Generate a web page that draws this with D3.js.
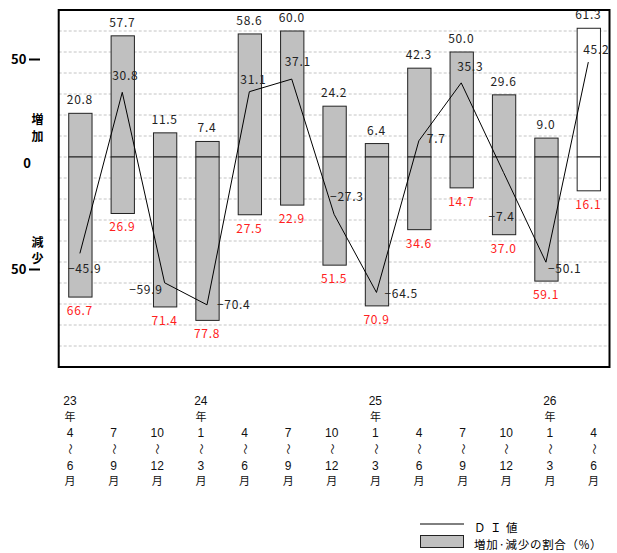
<!DOCTYPE html>
<html>
<head>
<meta charset="utf-8">
<script src="https://cdn.jsdelivr.net/npm/d3@7"></script>
<style>
  html, body { margin: 0; padding: 0; background: #fff; }
  svg { display: block; }
  text { font-family: "Noto Sans CJK JP", "Noto Sans", sans-serif; }
  text.num { font-family: "Liberation Sans", Arial, sans-serif; }
</style>
</head>
<body>
<svg id="chart" width="617" height="553"></svg>
<script>
// Quarterly survey: share of "increase" / "decrease" answers and the DI (increase − decrease)
const yearLabels  = ["23", "", "", "24", "", "", "", "25", "", "", "", "26", ""];
const startMonths = ["4", "7", "10", "1", "4", "7", "10", "1", "4", "7", "10", "1", "4"];
const endMonths   = ["6", "9", "12", "3", "6", "9", "12", "3", "6", "9", "12", "3", "6"];
const increase = [20.8, 57.7, 11.5, 7.4, 58.6, 60.0, 24.2, 6.4, 42.3, 50.0, 29.6, 9.0, 61.3];
const decrease = [66.7, 26.9, 71.4, 77.8, 27.5, 22.9, 51.5, 70.9, 34.6, 14.7, 37.0, 59.1, 16.1];
const di       = [-45.9, 30.8, -59.9, -70.4, 31.1, 37.1, -27.3, -64.5, 7.7, 35.3, -7.4, -50.1, 45.2];
const forecast = [false, false, false, false, false, false, false, false, false, false, false, false, true];
const yTicks = [50, 0, -50];

// DI label placement relative to each point: [anchor, dx, dy]
const diLabelPlace = [
  ["start", -12, 15], ["middle", 3, -17], ["end", -2, 7], ["start", 10, 0],
  ["middle", 4, -12], ["middle", 6, -17], ["start", -4, -18], ["start", 8, 1],
  ["start", 8, -2], ["middle", 9, -16], ["start", -15, 44], ["start", 2, 7],
  ["middle", 8, -12]
];

const svg = d3.select("#chart");
const idx = d3.range(increase.length);
const plotL = 58.7, plotR = 609.5, plotT = 10, plotB = 367;

const x = d3.scaleBand().domain(idx).range([plotL, plotR]).paddingInner(0.45).paddingOuter(0.225);
const y = d3.scaleLinear().domain([-100, 70]).range([plotB, plotT]);
const xLab = d3.scalePoint().domain(idx).range([70, 593.5]);
const cx = i => x(i) + x.bandwidth() / 2;
const fmt = v => (v < 0 ? "\u2212" : "") + Math.abs(v).toFixed(1);

// dashed grid
svg.append("g").selectAll("line")
  .data(d3.range(-90, 70, 10))
  .join("line")
  .attr("x1", plotL).attr("x2", plotR)
  .attr("y1", d => y(d)).attr("y2", d => y(d))
  .attr("stroke", "#c4c4c4").attr("stroke-width", 1)
  .attr("stroke-dasharray", "3,2");

// bars: upper part = increase, lower part = decrease
const bars = svg.append("g");
bars.selectAll("rect.inc").data(idx).join("rect")
  .attr("class", "inc")
  .attr("x", d => x(d) + 0.5).attr("width", x.bandwidth())
  .attr("y", d => y(increase[d])).attr("height", d => y(0) - y(increase[d]))
  .attr("fill", d => forecast[d] ? "#fff" : "#c0c0c0")
  .attr("stroke", "#222").attr("stroke-width", 1);
bars.selectAll("rect.dec").data(idx).join("rect")
  .attr("class", "dec")
  .attr("x", d => x(d) + 0.5).attr("width", x.bandwidth())
  .attr("y", y(0)).attr("height", d => y(-decrease[d]) - y(0))
  .attr("fill", d => forecast[d] ? "#fff" : "#c0c0c0")
  .attr("stroke", "#222").attr("stroke-width", 1);

// DI line
svg.append("path")
  .datum(idx)
  .attr("d", d3.line().x(d => cx(d)).y(d => y(di[d])))
  .attr("fill", "none").attr("stroke", "#000").attr("stroke-width", 1);

// plot frame
svg.append("rect")
  .attr("x", plotL).attr("y", plotT)
  .attr("width", plotR - plotL).attr("height", plotB - plotT)
  .attr("fill", "none").attr("stroke", "#000").attr("stroke-width", 2);

// value labels
const lab = svg.append("g").attr("font-size", 12).attr("letter-spacing", "0.7px");
lab.selectAll("text.inc").data(idx).join("text")
  .attr("x", d => cx(d)).attr("y", d => y(increase[d]) - 9)
  .attr("text-anchor", "middle").attr("fill", "#222")
  .text(d => fmt(increase[d]));
lab.selectAll("text.dec").data(idx).join("text")
  .attr("x", d => cx(d)).attr("y", d => y(-decrease[d]) + 18)
  .attr("text-anchor", "middle").attr("fill", "#ff2020")
  .text(d => fmt(decrease[d]));
lab.selectAll("text.di").data(idx).join("text")
  .attr("x", d => cx(d) + diLabelPlace[d][1])
  .attr("y", d => y(di[d]) + diLabelPlace[d][2])
  .attr("dy", "0.35em")
  .attr("text-anchor", d => diLabelPlace[d][0]).attr("fill", "#222")
  .text(d => fmt(di[d]));

// y-axis captions
const yl = svg.append("g").attr("font-size", 13).attr("font-weight", "bold").attr("fill", "#000");
yTicks.forEach(t => {
  if (t === 0) {
    yl.append("text").attr("x", 27).attr("y", 163).attr("dy", "0.35em").attr("text-anchor", "middle").text("0");
  } else {
    const yy = t > 0 ? 59.5 : 269.5;
    yl.append("text").attr("x", 11).attr("y", yy).attr("dy", "0.35em").text(String(Math.abs(t)));
    yl.append("line").attr("x1", 29).attr("x2", 40).attr("y1", yy).attr("y2", yy)
      .attr("stroke", "#000").attr("stroke-width", 2);
  }
});
[["増", 120], ["加", 137], ["減", 243], ["少", 259]].forEach(([c, yy]) => {
  yl.append("text").attr("x", 37.5).attr("y", yy).attr("dy", "0.35em")
    .attr("text-anchor", "middle").attr("font-size", 12).text(c);
});

// x-axis period labels, stacked vertically under each bar
const xl = svg.append("g").attr("fill", "#111").attr("text-anchor", "middle");
const row = (s, xx, yy, cls, size) =>
  xl.append("text").attr("class", cls).attr("x", xx).attr("y", yy)
    .attr("dy", "0.35em").attr("font-size", size).text(s);
idx.forEach(i => {
  const xx = xLab(i);
  if (yearLabels[i]) {
    row(yearLabels[i], xx, 400.5, "num", 12);
    row("年", xx, 417, "", 11);
  }
  row(startMonths[i], xx, 432.5, "num", 12);
  xl.append("text").attr("transform", `translate(${xx},449) rotate(90)`)
    .attr("dy", "0.35em").attr("font-size", 11).text("〜");
  row(endMonths[i], xx, 465.5, "num", 12);
  row("月", xx, 481.5, "", 11);
});

// legend
const lg = svg.append("g").attr("font-size", 11.5).attr("fill", "#000");
lg.append("line").attr("x1", 420).attr("x2", 464).attr("y1", 524).attr("y2", 524)
  .attr("stroke", "#000").attr("stroke-width", 1);
lg.append("text").attr("x", 474).attr("y", 527.5).attr("dy", "0.35em").attr("letter-spacing", "4.5px").text("ＤＩ値");
lg.append("rect").attr("x", 420.5).attr("y", 535.5).attr("width", 43).attr("height", 12)
  .attr("fill", "#c0c0c0").attr("stroke", "#222").attr("stroke-width", 1);
lg.append("text").attr("x", 474).attr("y", 544.5).attr("dy", "0.35em").attr("letter-spacing", "0.7px").text("増加·減少の割合（%）");
</script>
</body>
</html>
